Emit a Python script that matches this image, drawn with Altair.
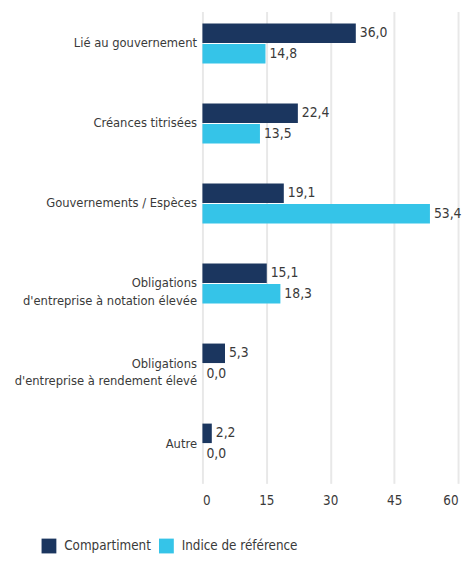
import altair as alt
import pandas as pd

categories = [
    "Lié au gouvernement",
    "Créances titrisées",
    "Gouvernements / Espèces",
    "Obligations|d'entreprise à notation élevée",
    "Obligations|d'entreprise à rendement élevé",
    "Autre",
]
compartiment = [36.0, 22.4, 19.1, 15.1, 5.3, 2.2]
indice = [14.8, 13.5, 53.4, 18.3, 0.0, 0.0]
series = ["Compartiment", "Indice de référence"]
colors = ["#1b365f", "#35c4e8"]
x_ticks = [0, 15, 30, 45, 60]

rows = []
for c, a, b in zip(categories, compartiment, indice):
    rows.append({"cat": c, "series": series[0], "value": a})
    rows.append({"cat": c, "series": series[1], "value": b})
df = pd.DataFrame(rows)

FONT = "DejaVu Sans Condensed"
TXT = "#3a3a3a"

y = alt.Y(
    "cat:N",
    sort=categories,
    title=None,
    scale=alt.Scale(paddingInner=0.5, paddingOuter=0.148),
    axis=alt.Axis(
        labelExpr="split(datum.label, '|')",
        labelFontSize=13,
        labelColor=TXT,
        labelFont=FONT,
        labelLineHeight=18,
        labelPadding=6,
        ticks=False,
        domain=False,
        labelLimit=300,
    ),
)
yoff = alt.YOffset("series:N", sort=series, scale=alt.Scale(paddingInner=0.05))
x = alt.X(
    "value:Q",
    title=None,
    scale=alt.Scale(domain=[0, 60]),
    axis=alt.Axis(
        values=x_ticks,
        grid=True,
        gridColor="#e8e8e8",
        gridWidth=2,
        domain=False,
        ticks=True,
        tickColor="#e8e8e8",
        tickWidth=2,
        tickSize=8,
        labelFontSize=13.5,
        labelColor=TXT,
        labelFont=FONT,
        labelPadding=10,
    ),
)

bars = alt.Chart(df).mark_bar().encode(
    y=y,
    yOffset=yoff,
    x=x,
    color=alt.Color(
        "series:N",
        sort=series,
        scale=alt.Scale(domain=series, range=colors),
        legend=alt.Legend(
            title=None,
            orient="none",
            legendX=-163,
            legendY=534,
            direction="horizontal",
            symbolType="square",
            symbolSize=225,
            symbolStrokeWidth=0,
            symbolOpacity=1,
            labelFontSize=13.5,
            labelFont=FONT,
            labelColor=TXT,
            labelOffset=8,
            columnPadding=8,
        ),
    ),
)

labels = alt.Chart(df).transform_calculate(
    lbl="replace(format(datum.value, '.1f'), '.', ',')"
).mark_text(align="left", baseline="middle", dx=4, fontSize=14, font=FONT, color=TXT).encode(
    y=alt.Y("cat:N", sort=categories),
    yOffset=alt.YOffset("series:N", sort=series),
    x=alt.X("value:Q"),
    text="lbl:N",
)

chart = (
    alt.layer(bars, labels)
    .properties(width=259, height=470, padding={"top": 0, "left": 6, "right": 0, "bottom": 0})
    .configure_view(stroke=None)
)

chart.save("out.html", embed_options={"renderer": "svg", "actions": False})
